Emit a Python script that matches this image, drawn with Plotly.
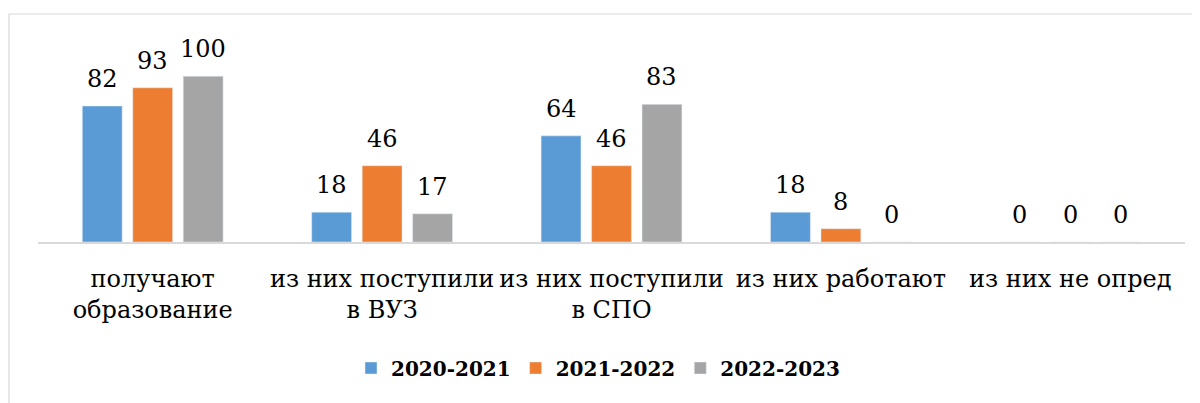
import plotly.graph_objects as go

categories = ["получают<br>образование", "из них поступили<br>в ВУЗ", "из них поступили<br>в СПО",
              "из них работают", "из них не опред"]
series_names = ["2020-2021", "2021-2022", "2022-2023"]
values_2020_2021 = [82, 18, 64, 18, 0]
values_2021_2022 = [93, 46, 46, 8, 0]
values_2022_2023 = [100, 17, 83, 0, 0]
colors = ["#5B9BD5", "#ED7D31", "#A5A5A5"]

all_values = [values_2020_2021, values_2021_2022, values_2022_2023]

W, H = 1200, 403
OFF = 8  # page body margin
ML, MR, MT, MB = 38 - OFF, 15 + OFF, 43 - OFF, 161 + OFF
BARGAP, BARGROUPGAP = 0.34, 0.21
FONT = "DejaVu Serif"

fig = go.Figure()
for name, vals, col in zip(series_names, all_values, colors):
    fig.add_trace(go.Bar(x=categories, y=vals, name=name, marker_color=col,
                         hoverinfo="skip"))

plot_w = W - ML - MR
cat_w = plot_w / len(categories)
slot = cat_w * (1 - BARGAP) / len(series_names)
for i, vals in enumerate(all_values):
    off = (i - (len(series_names) - 1) / 2) * slot
    for c, v in zip(categories, vals):
        fig.add_annotation(x=c, y=v, xref="x", yref="y", text=str(v), showarrow=False,
                           xshift=off, yshift=27, yanchor="middle",
                           font=dict(family=FONT, size=24, color="#000000"))

plot_h = H - MT - MB
def py(p):
    return (H - MB - (p - OFF)) / plot_h
def px_(p):
    return ((p - OFF) - ML) / plot_w

fig.add_shape(type="rect", xref="paper", yref="paper",
              x0=px_(9), x1=px_(1230), y0=py(14), y1=py(430),
              line=dict(color="#D9D9D9", width=1.2), fillcolor="rgba(0,0,0,0)", layer="below")

fig.update_layout(
    width=W, height=H,
    margin=dict(l=ML, r=MR, t=MT, b=MB, autoexpand=False),
    paper_bgcolor="white", plot_bgcolor="white",
    barmode="group", bargap=BARGAP, bargroupgap=BARGROUPGAP,
    font=dict(family=FONT, size=24, color="#000000"),
    showlegend=True,
    legend=dict(orientation="h", x=px_(598), xanchor="center", y=py(368), yanchor="middle",
                font=dict(family=FONT, size=20, color="#000000", weight="bold"),
                bgcolor="rgba(0,0,0,0)"),
    xaxis=dict(showline=True, linecolor="#D9D9D9", linewidth=1.5, showgrid=False,
               ticks="", ticklabelstandoff=14, tickangle=0,
               tickfont=dict(family=FONT, size=24)),
    yaxis=dict(range=[0, 120], visible=False, showgrid=False, zeroline=False),
)

fig.write_html("out.html")
